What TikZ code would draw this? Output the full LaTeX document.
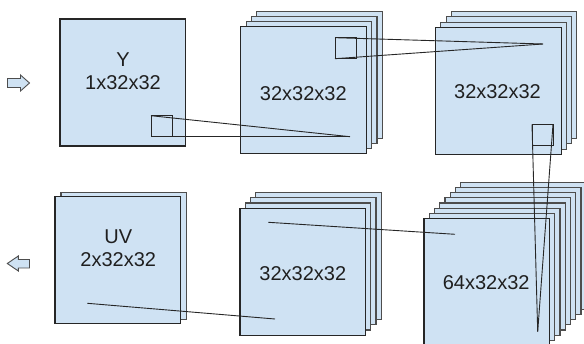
\documentclass[tikz,border=0pt]{standalone}
\usepackage{fontspec}
\setmainfont{Liberation Sans}
\definecolor{sheetfill}{HTML}{CFE2F3}
\definecolor{sheetline}{HTML}{4D4D4D}
\definecolor{frontline}{HTML}{262626}
\definecolor{linkline}{HTML}{262626}
\begin{document}
\begin{tikzpicture}[x=1pt,y=-1pt,
  sheet/.style={draw=sheetline, fill=sheetfill, line width=1.1pt, inner sep=0pt, outer sep=0pt, anchor=north west, minimum width=125.5pt, minimum height=127pt},
  frontsheet/.style={sheet, draw=frontline},
  kernel/.style={draw=frontline, line width=1pt, inner sep=0pt, outer sep=0pt, anchor=north west, minimum width=21pt, minimum height=21pt},
  link/.style={draw=linkline, line width=0.9pt},
  lbl/.style={font=\fontsize{20}{23}\selectfont, text=black!88, align=center, inner sep=0pt},
  blockarrow/.style={draw=sheetline, fill=sheetfill, line width=0.9pt, line join=miter}]
\useasboundingbox (0,0) rectangle (584,344);

% input arrow and output arrow
\draw[blockarrow] (7.5,78.5) -- (20.5,78.5) -- (20.5,75) -- (29.5,83) -- (20.5,91) -- (20.5,87.5) -- (7.5,87.5) -- cycle;
\draw[blockarrow] (29.5,259.5) -- (18.3,259.5) -- (18.3,256) -- (7.3,263.5) -- (18.3,271) -- (18.3,268) -- (29.5,268) -- cycle;

% Y box
\node[frontsheet] (y) at (60,19) {};
\node[lbl] (ylbl) at (123,71.5) {Y\\1x32x32};

% box 2 (32x32x32, top middle)
\foreach \i in {3,2,1} \node[sheet] (b2s\i) at ({240.7+5.4*\i},{26.7-5*\i}) {};
\node[frontsheet] (b2) at (240.7,26.7) {};
\node[lbl] (b2lbl) at (303.3,93.3) {32x32x32};

% box 3 (32x32x32, top right)
\foreach \i in {3,2,1} \node[sheet] (b3s\i) at ({435.7+5.2*\i},{27.3-5.2*\i}) {};
\node[frontsheet] (b3) at (435.7,27.3) {};
\node[lbl] (b3lbl) at (497.5,91.7) {32x32x32};

% box 4 (64x32x32, bottom right)
\foreach \i in {7,6,...,1} \node[sheet] (b4s\i) at ({424+5.25*\i},{218.3-5.1*\i}) {};
\node[frontsheet] (b4) at (424,218.3) {};
\node[lbl] (b4lbl) at (486.2,282.3) {64x32x32};

% box 5 (32x32x32, bottom middle)
\foreach \i in {3,2,1} \node[sheet] (b5s\i) at ({240+5.25*\i},{208.3-5.3*\i}) {};
\node[frontsheet] (b5) at (240,208.3) {};
\node[lbl] (b5lbl) at (302.8,273.3) {32x32x32};

% UV box
\node[sheet] (uvs1) at (61,192.3) {};
\node[frontsheet] (uv) at (55,196.7) {};
\node[lbl] (uvlbl) at (118.3,248.3) {UV\\2x32x32};

% kernels
\node[kernel] (k1) at (151,115.7) {};
\node[kernel] (k2) at (335,37.7) {};
\node[kernel] (k3) at (532,124.3) {};

% targets
\coordinate (t1) at (350,136.7);
\coordinate (t2) at (543,44);
\coordinate (t3) at (537.7,331.7);
\coordinate (f5a) at (268.3,222.3);
\coordinate (f4a) at (455,234.3);
\coordinate (f5b) at (275,319);
\coordinate (fuv) at (87.3,303.3);

% connectors
\draw[link] (k1.north west) -- (t1);
\draw[link] (k1.south west) -- (t1);
\draw[link] (k2.north west) -- (t2);
\draw[link] (k2.south west) -- (t2);
\draw[link] (k3.north west) -- (t3);
\draw[link] (k3.north east) -- (t3);
\draw[link] (f5a) -- (f4a);
\draw[link] (f5b) -- (fuv);
\end{tikzpicture}
\end{document}
